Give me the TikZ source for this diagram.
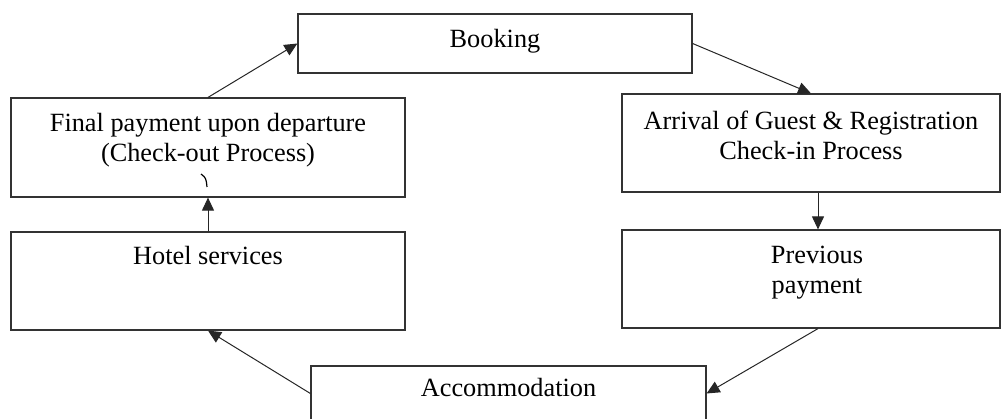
\documentclass[tikz,border=0pt]{standalone}
\usepackage{fontspec}
\setmainfont{Liberation Serif}
\usetikzlibrary{arrows.meta}

\begin{document}
\begin{tikzpicture}[x=1pt,y=-1pt,
  box/.style={draw=black!80,line width=1.2pt,rectangle,inner sep=0pt},
  lbl/.style={anchor=north,inner sep=0pt,align=center,font=\fontsize{26.3}{30}\selectfont},
  flow/.style={draw=black!85,line width=1pt,-{Triangle[length=13pt,width=12pt]}}]
  \clip (0,0) rectangle (1003,419);

  \node[box,minimum width=394pt,minimum height=59pt] (book) at (495,43.5) {};
  \node[box,minimum width=378pt,minimum height=98pt] (arr) at (811,143) {};
  \node[box,minimum width=378pt,minimum height=98pt] (prev) at (811,279) {};
  \node[box,minimum width=395pt,minimum height=55pt] (acc) at (508.5,393.5) {};
  \node[box,minimum width=394pt,minimum height=98pt] (hotel) at (208,281) {};
  \node[box,minimum width=394pt,minimum height=99pt] (fp) at (208,147.5) {};

  \node[lbl] (book-t) at ([yshift=-16pt]book.north) {Booking};
  \node[lbl] (arr-t) at ([yshift=-17pt]arr.north) {Arrival of Guest \& Registration\\Check-in Process};
  \node[lbl] (prev-t) at ([xshift=6pt,yshift=-16pt]prev.north) {Previous\\payment};
  \node[lbl] (acc-t) at ([yshift=-13pt]acc.north) {Accommodation};
  \node[lbl] (hotel-t) at ([yshift=-15pt]hotel.north) {Hotel services};
  \node[lbl] (fp-t) at ([yshift=-16pt]fp.north) {Final payment upon departure\\(Check-out Process)};

  \draw[flow] (fp.north) -- (book.west);
  \draw[flow] (book.east) -- (arr.north);
  \draw[flow] ([xshift=7pt]arr.south) -- ([xshift=7pt]prev.north);
  \draw[flow] ([xshift=7pt]prev.south) -- (acc.east);
  \draw[flow] (acc.west) -- (hotel.south);
  \draw[flow] (hotel.north) -- (fp.south);

  \draw[line width=1.2pt] (201,174) .. controls (206,178) .. (207,187);
\end{tikzpicture}
\end{document}
